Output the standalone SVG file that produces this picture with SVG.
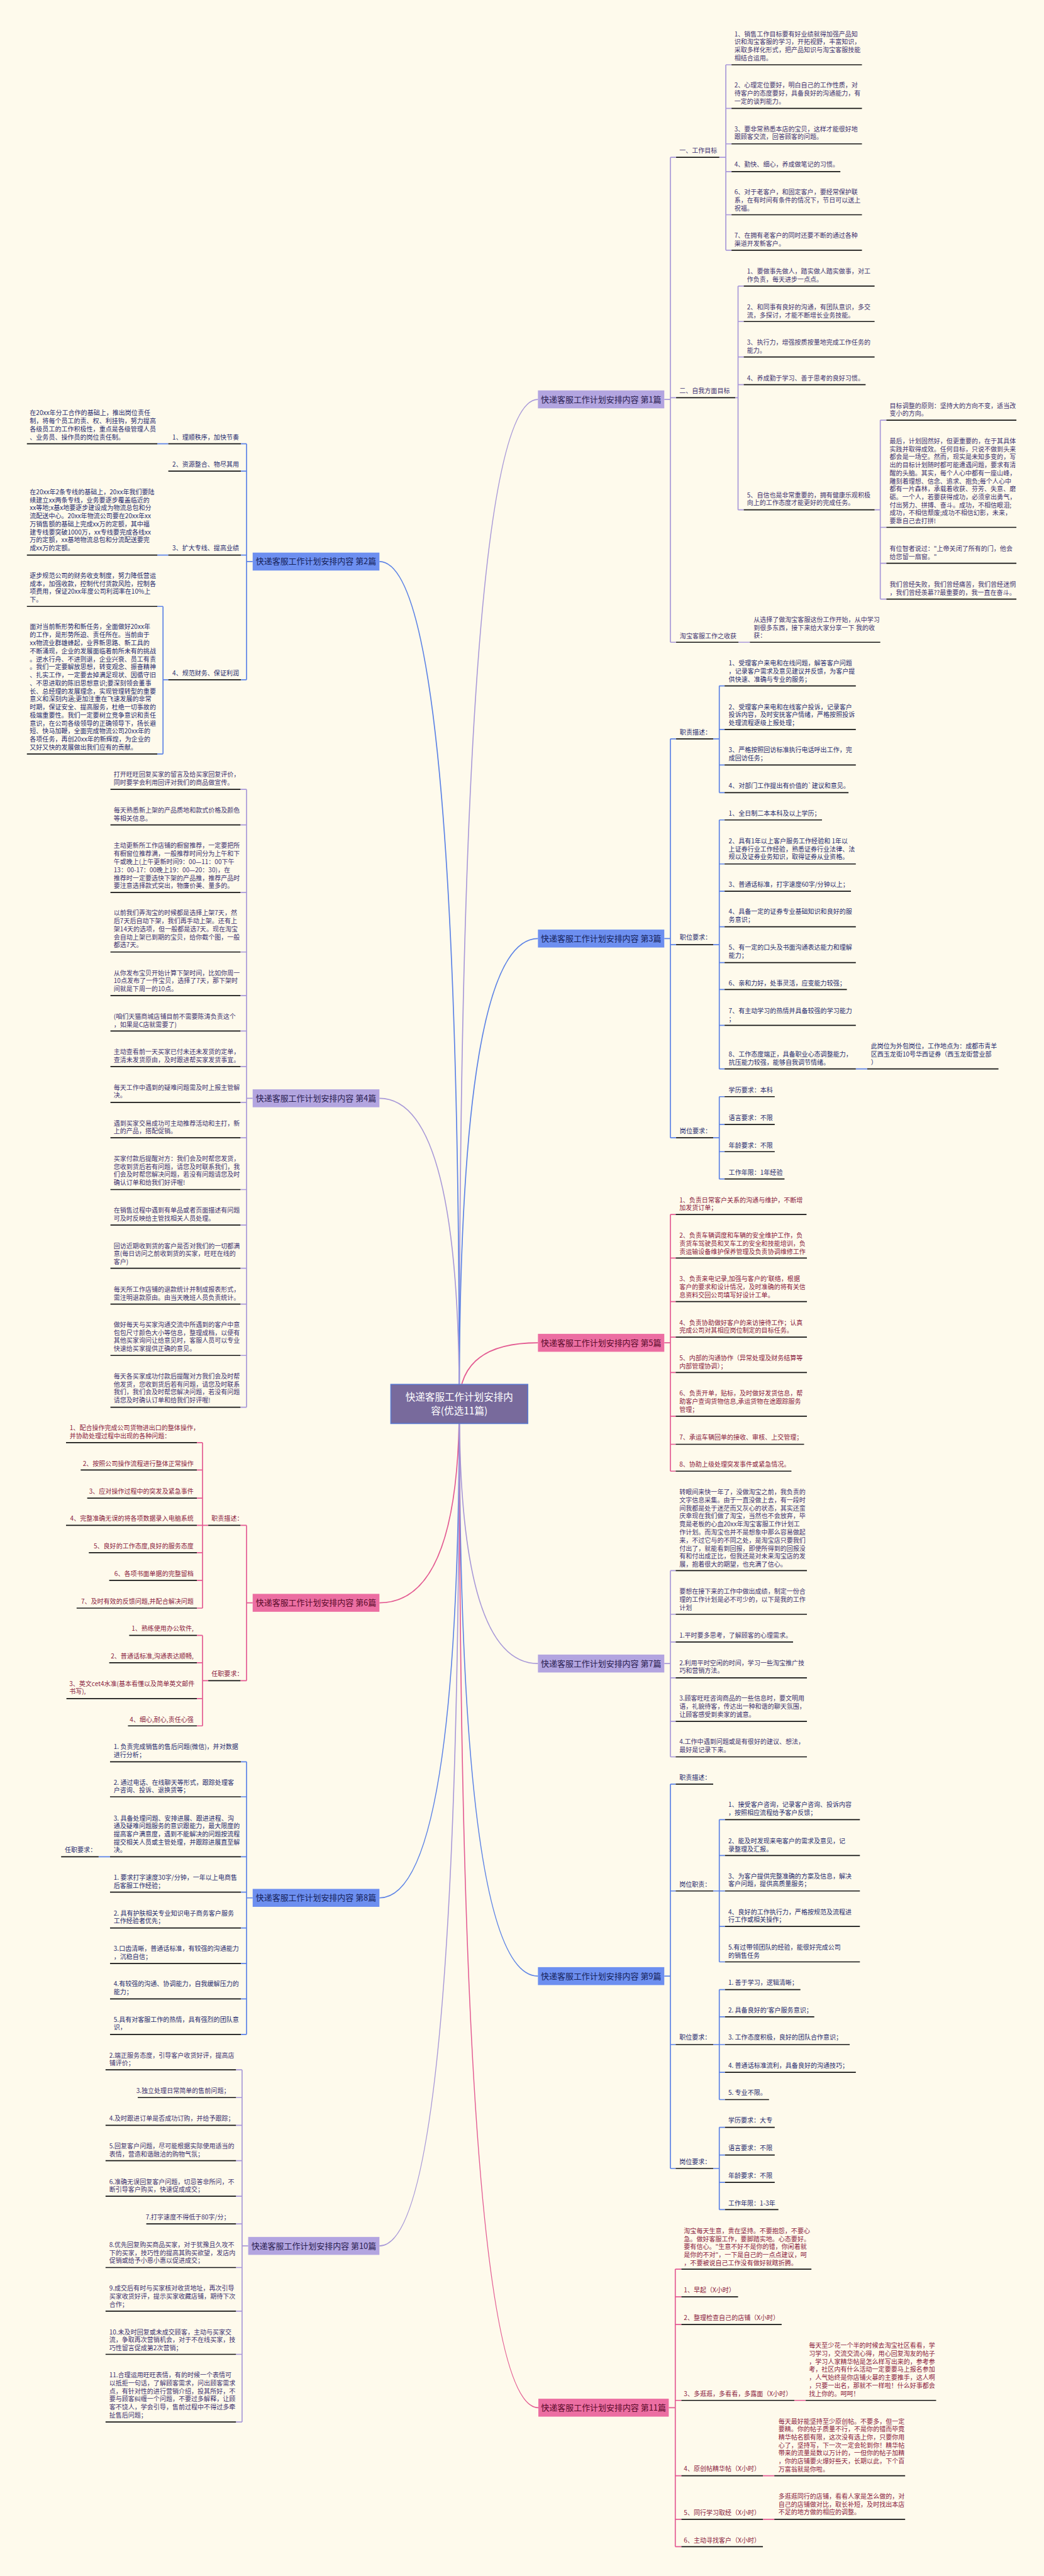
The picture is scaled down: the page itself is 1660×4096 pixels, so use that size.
<svg xmlns="http://www.w3.org/2000/svg" width="1660" height="4096" viewBox="0 0 1660 4096">
<style>
text{font-family:"Noto Sans CJK SC","Noto Sans",sans-serif;font-size:15.5px}
.p{fill:#3d3270}.b{fill:#1f2b6e}.r{fill:#8b1a40}
.u{stroke:#141414;stroke-width:2.6;fill:none}
.cp{stroke:#a898d8;stroke-width:2.6;fill:none}.cb{stroke:#5c82e6;stroke-width:2.6;fill:none}.cr{stroke:#e35a92;stroke-width:2.6;fill:none}
.np{fill:#b3a5e0}.nb{fill:#6d8ff0}.nr{fill:#ec6ea2}
.nt{font-size:20px;text-anchor:middle}
.tp{fill:#2a2050}.tb{fill:#15225a}.tr{fill:#5a0a2a}
.e{text-anchor:end}
</style>
<rect width="1660" height="4096" fill="#fefaec"/>
<g transform="scale(0.648)">
<g id="connectors">
<path class="cp" d="M1127 3445Q1127 980 1320 980M1630 980H1645M1645 386V1576M1645 386H1659M1645 976H1659M1645 1576H1659M1765 386H1781M1781 159V614M1781 159H1795M1781 266H1795M1781 353H1795M1781 421H1795M1781 527H1795M1781 614H1795M1804 976H1811M1811 702V1251M1811 702H1825M1811 789H1825M1811 876H1825M1811 944H1825M1811 1251H1825M2146 1251H2160M2160 1031V1470M2160 1031H2175M2160 1294H2175M2160 1382H2175M2160 1470H2175M1812 1576H1840"/>
<path class="cb" d="M1127 3445Q1127 2303 1320 2303M1630 2303H1645M1645 1813V2792M1645 1813H1659M1645 2318H1659M1645 2792H1659M1750 1813H1765M1765 1683V1945M1765 1683H1778M1765 1790H1778M1765 1877H1778M1765 1945H1778M1750 2318H1765M1765 2012V2623M1765 2012H1778M1765 2120H1778M1765 2187H1778M1765 2274H1778M1765 2362H1778M1765 2428H1778M1765 2516H1778M1765 2623H1778M2100 2623H2128M1750 2792H1765M1765 2691V2893M1765 2691H1778M1765 2759H1778M1765 2826H1778M1765 2893H1778"/>
<path class="cr" d="M1127 3445Q1127 3295 1320 3295M1630 3295H1645M1645 2980V3610M1645 2980H1658M1645 3087H1658M1645 3194H1658M1645 3281H1658M1645 3368H1658M1645 3475H1658M1645 3544H1658M1645 3610H1658"/>
<path class="cp" d="M1127 3445Q1127 4082 1320 4082M1630 4082H1645M1645 3854V4311M1645 3854H1658M1645 3961H1658M1645 4029H1658M1645 4117H1658M1645 4224H1658M1645 4311H1658"/>
<path class="cb" d="M1127 3445Q1127 4849 1320 4849M1630 4849H1645M1645 4378V5321M1645 4378H1658M1645 4640H1658M1645 5017H1658M1645 5321H1658M1750 4640H1765M1765 4465V4814M1765 4465H1779M1765 4553H1779M1765 4640H1779M1765 4727H1779M1765 4814H1779M1750 5017H1765M1765 4882V5152M1765 4882H1779M1765 4949H1779M1765 5017H1779M1765 5085H1779M1765 5152H1779M1750 5321H1765M1765 5220V5422M1765 5220H1779M1765 5288H1779M1765 5355H1779M1765 5422H1779"/>
<path class="cr" d="M1127 3445Q1127 5908 1321 5908M1641 5908H1657M1657 5568V6249M1657 5568H1672M1657 5636H1672M1657 5704H1672M1657 5890H1672M1657 6075H1672M1657 6182H1672M1657 6249H1672M1949 5890H1977M1872 6075H1900M1872 6182H1900"/>
<path class="cb" d="M1127 3445Q1127 1378 931 1378M620 1378H605M605 1089V1668M605 1089H591M605 1156H591M605 1362H591M605 1668H591M386 1089H413M386 1362H413M413 1668H400M400 1488V1850M400 1488H386M400 1850H386"/>
<path class="cp" d="M1127 3445Q1127 2695 931 2695M620 2695H605M605 1937V3453M605 1937H590M605 2024H590M605 2190H590M605 2336H590M605 2443H590M605 2530H590M605 2617H590M605 2705H590M605 2792H590M605 2919H590M605 3006H590M605 3112H590M605 3200H590M605 3326H590M605 3453H590"/>
<path class="cr" d="M1127 3445Q1127 3933 931 3933M620 3933H605M605 3743V4124M605 3743H590M605 4124H590M511 3743H497M497 3540V3946M497 3540H483M497 3607H483M497 3676H483M497 3743H483M497 3810H483M497 3878H483M497 3946H483M511 4124H497M497 4013V4235M497 4013H483M497 4080H483M497 4168H483M497 4235H483"/>
<path class="cb" d="M1127 3445Q1127 4657 931 4657M620 4657H605M605 4323V4992M605 4323H591M605 4409H591M605 4556H591M605 4643H591M605 4731H591M605 4818H591M605 4905H591M605 4992H591M270 4556H242"/>
<path class="cp" d="M1127 3445Q1127 5511 931 5511M609 5511H594M594 5079V5943M594 5079H579M594 5147H579M594 5215H579M594 5302H579M594 5389H579M594 5457H579M594 5564H579M594 5671H579M594 5777H579M594 5943H579"/>
</g>

<g id="center"><rect x="959" y="3397" width="336" height="96" fill="#786a9c" stroke="#5a78d0" stroke-width="2.5"/><text x="1127" y="3436" text-anchor="middle" style="font-size:24px;fill:#fff">快递客服工作计划安排内</text><text x="1127" y="3471" text-anchor="middle" style="font-size:24px;fill:#fff">容(优选11篇)</text></g>

<g id="p1"><rect class="np" x="1320" y="958" width="310" height="44"/><text class="nt tp" x="1475" y="987">快递客服工作计划安排内容 第1篇</text></g>
<g id="p1a"><text class="p" x="1667" y="375.5">一、工作目标</text><path class="u" d="M1659 386H1765"/></g>
<g id="p1a1"><text class="p" x="1802" y="89"><tspan x="1802">1、销售工作目标要有好业绩就得加强产品知</tspan><tspan x="1802" dy="19.7">识和淘宝客服的学习，开拓视野，丰富知识，</tspan><tspan x="1802" dy="19.7">采取多样化形式，把产品知识与淘宝客服技能</tspan><tspan x="1802" dy="19.7">相结合运用。</tspan></text><path class="u" d="M1795 159H2115"/></g>
<g id="p1a2"><text class="p" x="1802" y="215"><tspan x="1802">2、心理定位要好，明白自己的工作性质，对</tspan><tspan x="1802" dy="19.7">待客户的态度要好，具备良好的沟通能力，有</tspan><tspan x="1802" dy="19.7">一定的谈判能力。</tspan></text><path class="u" d="M1795 266H2115"/></g>
<g id="p1a3"><text class="p" x="1802" y="322"><tspan x="1802">3、要非常熟悉本店的宝贝，这样才能很好地</tspan><tspan x="1802" dy="19.7">跟顾客交流，回答顾客的问题。</tspan></text><path class="u" d="M1795 353H2115"/></g>
<g id="p1a4"><text class="p" x="1802" y="409">4、勤快、细心，养成做笔记的习惯。</text><path class="u" d="M1795 421H2062"/></g>
<g id="p1a6"><text class="p" x="1802" y="477"><tspan x="1802">6、对于老客户，和固定客户，要经常保护联</tspan><tspan x="1802" dy="19.7">系，在有时间有条件的情况下，节日可以送上</tspan><tspan x="1802" dy="19.7">祝福。</tspan></text><path class="u" d="M1795 527H2115"/></g>
<g id="p1a7"><text class="p" x="1802" y="584"><tspan x="1802">7、在拥有老客户的同时还要不断的通过各种</tspan><tspan x="1802" dy="19.7">渠道开发新客户。</tspan></text><path class="u" d="M1795 614H2115"/></g>
<g id="p1b"><text class="p" x="1667" y="964">二、自我方面目标</text><path class="u" d="M1659 976H1804"/></g>
<g id="p1b1"><text class="p" x="1833" y="671"><tspan x="1833">1、要做事先做人，踏实做人踏实做事，对工</tspan><tspan x="1833" dy="19.7">作负责，每天进步一点点。</tspan></text><path class="u" d="M1825 702H2146"/></g>
<g id="p1b2"><text class="p" x="1833" y="759"><tspan x="1833">2、和同事有良好的沟通，有团队意识，多交</tspan><tspan x="1833" dy="19.7">流，多探讨，才能不断增长业务技能。</tspan></text><path class="u" d="M1825 789H2146"/></g>
<g id="p1b3"><text class="p" x="1833" y="846"><tspan x="1833">3、执行力，增强按质按量地完成工作任务的</tspan><tspan x="1833" dy="19.7">能力。</tspan></text><path class="u" d="M1825 876H2146"/></g>
<g id="p1b4"><text class="p" x="1833" y="933">4、养成勤于学习、善于思考的良好习惯。</text><path class="u" d="M1825 944H2124"/></g>
<g id="p1b5"><text class="p" x="1833" y="1220"><tspan x="1833">5、自信也是非常重要的，拥有健康乐观积极</tspan><tspan x="1833" dy="19.7">向上的工作态度才能更好的完成任务。</tspan></text><path class="u" d="M1825 1251H2146"/></g>
<g id="p1b5a"><text class="p" x="2183" y="1001"><tspan x="2183">目标调整的原则：坚持大的方向不变，适当改</tspan><tspan x="2183" dy="19.7">变小的方向。</tspan></text><path class="u" d="M2175 1031H2494"/></g>
<g id="p1b5b"><text class="p" x="2183" y="1088"><tspan x="2183">最后，计划固然好，但更重要的，在于其具体</tspan><tspan x="2183" dy="19.6">实践并取得成效。任何目标，只说不做到头来</tspan><tspan x="2183" dy="19.6">都会是一场空。然而，现实是未知多变的，写</tspan><tspan x="2183" dy="19.6">出的目标计划随时都可能遭遇问题，要求有清</tspan><tspan x="2183" dy="19.6">醒的头脑。其实，每个人心中都有一座山峰，</tspan><tspan x="2183" dy="19.6">雕刻着理想、信念、追求、抱负;每个人心中</tspan><tspan x="2183" dy="19.6">都有一片森林，承载着收获、芬芳、失意、磨</tspan><tspan x="2183" dy="19.6">砺。一个人，若要获得成功，必须拿出勇气，</tspan><tspan x="2183" dy="19.6">付出努力、拼搏、奋斗。成功，不相信眼泪;</tspan><tspan x="2183" dy="19.6">成功，不相信颓废;成功不相信幻影，未来，</tspan><tspan x="2183" dy="19.6">要靠自己去打拼!</tspan></text><path class="u" d="M2175 1294H2494"/></g>
<g id="p1b5c"><text class="p" x="2183" y="1352"><tspan x="2183">有位智者说过："上帝关闭了所有的门，他会</tspan><tspan x="2183" dy="19.7">给您留一扇窗。"</tspan></text><path class="u" d="M2175 1382H2494"/></g>
<g id="p1b5d"><text class="p" x="2183" y="1440"><tspan x="2183">我们曾经失败，我们曾经痛苦，我们曾经迷惘</tspan><tspan x="2183" dy="19.7">，我们曾经羡慕??最重要的，我一直在奋斗。</tspan></text><path class="u" d="M2175 1470H2494"/></g>
<g id="p1c"><text class="p" x="1668" y="1566">淘宝客服工作之收获</text><path class="u" d="M1659 1576H1812"/></g>
<g id="p1c1"><text class="p" x="1849" y="1526"><tspan x="1849">从选择了做淘宝客服这份工作开始，从中学习</tspan><tspan x="1849" dy="19.7">到很多东西，接下来给大家分享一下 我的收</tspan><tspan x="1849" dy="19.7">获：</tspan></text><path class="u" d="M1840 1576H2160"/></g>

<g id="p3"><rect class="nb" x="1320" y="2281" width="310" height="44"/><text class="nt tb" x="1475" y="2310">快递客服工作计划安排内容 第3篇</text></g>
<g id="p3a"><text class="b" x="1668" y="1803">职责描述：</text><path class="u" d="M1659 1813H1750"/></g>
<g id="p3a1"><text class="b" x="1788" y="1633"><tspan x="1788">1、受理客户来电和在线问题，解答客户问题</tspan><tspan x="1788" dy="19.9">，记录客户需求及意见建议并反馈，为客户提</tspan><tspan x="1788" dy="19.9">供快速、准确与专业的服务；</tspan></text><path class="u" d="M1778 1683H2100"/></g>
<g id="p3a2"><text class="b" x="1788" y="1740"><tspan x="1788">2、受理客户来电和在线客户投诉，记录客户</tspan><tspan x="1788" dy="19.9">投诉内容，及时安抚客户情绪，严格按照投诉</tspan><tspan x="1788" dy="19.9">处理流程逐级上报处理；</tspan></text><path class="u" d="M1778 1790H2100"/></g>
<g id="p3a3"><text class="b" x="1788" y="1846"><tspan x="1788">3、严格按照回访标准执行电话呼出工作，完</tspan><tspan x="1788" dy="19.9">成回访任务；</tspan></text><path class="u" d="M1778 1877H2100"/></g>
<g id="p3a4"><text class="b" x="1788" y="1933">4、对部门工作提出有价值的`建议和意见。</text><path class="u" d="M1778 1945H2082"/></g>
<g id="p3b"><text class="b" x="1668" y="2306">职位要求：</text><path class="u" d="M1659 2318H1750"/></g>
<g id="p3b1"><text class="b" x="1788" y="2001">1、全日制二本本科及以上学历；</text><path class="u" d="M1778 2012H2017"/></g>
<g id="p3b2"><text class="b" x="1788" y="2069"><tspan x="1788">2、具有1年以上客户服务工作经验和 1年以</tspan><tspan x="1788" dy="19.9">上证券行业工作经验，熟悉证券行业法律、法</tspan><tspan x="1788" dy="19.9">规以及证券业务知识，取得证券从业资格。</tspan></text><path class="u" d="M1778 2120H2100"/></g>
<g id="p3b3"><text class="b" x="1788" y="2176">3、普通话标准，打字速度60字/分钟以上；</text><path class="u" d="M1778 2187H2088"/></g>
<g id="p3b4"><text class="b" x="1788" y="2243"><tspan x="1788">4、具备一定的证券专业基础知识和良好的服</tspan><tspan x="1788" dy="19.9">务意识；</tspan></text><path class="u" d="M1778 2274H2100"/></g>
<g id="p3b5"><text class="b" x="1788" y="2331"><tspan x="1788">5、有一定的口头及书面沟通表达能力和理解</tspan><tspan x="1788" dy="19.9">能力；</tspan></text><path class="u" d="M1778 2362H2100"/></g>
<g id="p3b6"><text class="b" x="1788" y="2418">6、亲和力好，处事灵活，应变能力较强；</text><path class="u" d="M1778 2428H2078"/></g>
<g id="p3b7"><text class="b" x="1788" y="2486"><tspan x="1788">7、有主动学习的热情并具备较强的学习能力</tspan><tspan x="1788" dy="19.9">；</tspan></text><path class="u" d="M1778 2516H2100"/></g>
<g id="p3b8"><text class="b" x="1788" y="2593"><tspan x="1788">8、工作态度端正，具备职业心态调整能力，</tspan><tspan x="1788" dy="19.9">抗压能力较强，能够自我调节情绪。</tspan></text><path class="u" d="M1778 2623H2100"/></g>
<g id="p3b8a"><text class="b" x="2137" y="2573"><tspan x="2137">此岗位为外包岗位，工作地点为：成都市青羊</tspan><tspan x="2137" dy="19.9">区西玉龙街10号华西证券（西玉龙街营业部</tspan><tspan x="2137" dy="19.9">）</tspan></text><path class="u" d="M2128 2623H2450"/></g>
<g id="p3c"><text class="b" x="1668" y="2781">岗位要求：</text><path class="u" d="M1659 2792H1750"/></g>
<g id="p3c1"><text class="b" x="1788" y="2680">学历要求：本科</text><path class="u" d="M1778 2691H1901"/></g>
<g id="p3c2"><text class="b" x="1788" y="2748">语言要求：不限</text><path class="u" d="M1778 2759H1901"/></g>
<g id="p3c3"><text class="b" x="1788" y="2816">年龄要求：不限</text><path class="u" d="M1778 2826H1901"/></g>
<g id="p3c4"><text class="b" x="1788" y="2882">工作年限：1年经验</text><path class="u" d="M1778 2893H1925"/></g>

<g id="p5"><rect class="nr" x="1320" y="3273" width="310" height="44"/><text class="nt tr" x="1475" y="3302">快递客服工作计划安排内容 第5篇</text></g>
<g id="p5a"><text class="r" x="1667" y="2950"><tspan x="1667">1、负责日常客户关系的沟通与维护，不断增</tspan><tspan x="1667" dy="19.8">加发货订单；</tspan></text><path class="u" d="M1658 2980H1979"/></g>
<g id="p5b"><text class="r" x="1667" y="3037"><tspan x="1667">2、负责车辆调度和车辆的安全维护工作，负</tspan><tspan x="1667" dy="19.8">责货车驾驶员和叉车工的安全和技能培训，负</tspan><tspan x="1667" dy="19.8">责运输设备维护保养管理及负责协调维修工作</tspan></text><path class="u" d="M1658 3087H1980"/></g>
<g id="p5c"><text class="r" x="1667" y="3144"><tspan x="1667">3、负责来电记录,加强与客户的'联络，根据</tspan><tspan x="1667" dy="19.8">客户的要求和设计情况，及时准确的将有关信</tspan><tspan x="1667" dy="19.8">息资料交回公司填写好设计工单。</tspan></text><path class="u" d="M1658 3194H1980"/></g>
<g id="p5d"><text class="r" x="1667" y="3251"><tspan x="1667">4、负责协助做好客户的来访接待工作；认真</tspan><tspan x="1667" dy="19.8">完成公司对其相应岗位制定的目标任务。</tspan></text><path class="u" d="M1658 3281H1980"/></g>
<g id="p5e"><text class="r" x="1667" y="3338"><tspan x="1667">5、内部的沟通协作（异常处理及财务结算等</tspan><tspan x="1667" dy="19.8">内部管理协调）；</tspan></text><path class="u" d="M1658 3368H1980"/></g>
<g id="p5f"><text class="r" x="1667" y="3425"><tspan x="1667">6、负责开单，贴标，及时做好发货信息，帮</tspan><tspan x="1667" dy="19.8">助客户查询货物信息,承运货物在途跟踪服务</tspan><tspan x="1667" dy="19.8">管理；</tspan></text><path class="u" d="M1658 3475H1980"/></g>
<g id="p5g"><text class="r" x="1667" y="3532">7、承运车辆回单的接收、审核、上交管理；</text><path class="u" d="M1658 3544H1973"/></g>
<g id="p5h"><text class="r" x="1667" y="3599">8、协助上级处理突发事件或紧急情况。</text><path class="u" d="M1658 3610H1942"/></g>

<g id="p7"><rect class="np" x="1320" y="4060" width="310" height="44"/><text class="nt tp" x="1475" y="4089">快递客服工作计划安排内容 第7篇</text></g>
<g id="p7a"><text class="p" x="1667" y="3667"><tspan x="1667">转眼间来快一年了，没做淘宝之前，我负责的</tspan><tspan x="1667" dy="19.7">文字信息采集。由于一直没做上去，有一段时</tspan><tspan x="1667" dy="19.7">间我都是处于迷茫而又灰心的状态，其实还蛮</tspan><tspan x="1667" dy="19.7">庆幸现在我们做了淘宝，当然也不会放弃，毕</tspan><tspan x="1667" dy="19.7">竟是老板的心血20xx年淘宝客服工作计划工</tspan><tspan x="1667" dy="19.7">作计划。而淘宝也并不是想象中那么容易做起</tspan><tspan x="1667" dy="19.7">来，不过它与的不同之处，是淘宝店只要我们</tspan><tspan x="1667" dy="19.7">付出了，就能看到回报，即使所得到的回报没</tspan><tspan x="1667" dy="19.7">有和付出成正比，但我还是对未来淘宝店的发</tspan><tspan x="1667" dy="19.7">展，抱着很大的期望，也充满了信心。</tspan></text><path class="u" d="M1658 3854H1980"/></g>
<g id="p7b"><text class="p" x="1667" y="3911"><tspan x="1667">要想在接下来的工作中做出成绩，制定一份合</tspan><tspan x="1667" dy="19.7">理的工作计划是必不可少的，以下是我的工作</tspan><tspan x="1667" dy="19.7">计划</tspan></text><path class="u" d="M1658 3961H1980"/></g>
<g id="p7c"><text class="p" x="1667" y="4018">1.平时要多思考，了解顾客的心理需求。</text><path class="u" d="M1658 4029H1946"/></g>
<g id="p7d"><text class="p" x="1667" y="4086"><tspan x="1667">2.利用平时空闲的时间，学习一些淘宝推广技</tspan><tspan x="1667" dy="19.7">巧和营销方法。</tspan></text><path class="u" d="M1658 4117H1980"/></g>
<g id="p7e"><text class="p" x="1667" y="4173"><tspan x="1667">3.顾客旺旺咨询商品的一些信息时，要文明用</tspan><tspan x="1667" dy="19.7">语，礼貌待客，传达出一种和谐的聊天氛围，</tspan><tspan x="1667" dy="19.7">让顾客感受到卖家的诚意。</tspan></text><path class="u" d="M1658 4224H1980"/></g>
<g id="p7f"><text class="p" x="1667" y="4280"><tspan x="1667">4.工作中遇到问题或是有很好的建议、想法，</tspan><tspan x="1667" dy="19.7">最好是记录下来。</tspan></text><path class="u" d="M1658 4311H1980"/></g>

<g id="p9"><rect class="nb" x="1320" y="4827" width="310" height="44"/><text class="nt tb" x="1475" y="4856">快递客服工作计划安排内容 第9篇</text></g>
<g id="p9a"><text class="b" x="1667" y="4367">职责描述：</text><path class="u" d="M1658 4378H1750"/></g>
<g id="p9b"><text class="b" x="1667" y="4629">岗位职责：</text><path class="u" d="M1658 4640H1750"/></g>
<g id="p9b1"><text class="b" x="1787" y="4434"><tspan x="1787">1、接受客户咨询，记录客户咨询、投诉内容</tspan><tspan x="1787" dy="19.7">，按照相应流程给予客户反馈；</tspan></text><path class="u" d="M1779 4465H2110"/></g>
<g id="p9b2"><text class="b" x="1787" y="4523"><tspan x="1787">2、能及时发现来电客户的需求及意见，记</tspan><tspan x="1787" dy="19.7">录整理及汇报。</tspan></text><path class="u" d="M1779 4553H2110"/></g>
<g id="p9b3"><text class="b" x="1787" y="4609"><tspan x="1787">3、为客户提供完整准确的方案及信息，解决</tspan><tspan x="1787" dy="19.7">客户问题，提供高质量服务；</tspan></text><path class="u" d="M1779 4640H2110"/></g>
<g id="p9b4"><text class="b" x="1787" y="4697"><tspan x="1787">4、良好的工作执行力，严格按规范及流程进</tspan><tspan x="1787" dy="19.7">行工作或相关操作；</tspan></text><path class="u" d="M1779 4727H2110"/></g>
<g id="p9b5"><text class="b" x="1787" y="4784"><tspan x="1787">5.有过带领团队的经验，能很好完成公司</tspan><tspan x="1787" dy="19.7">的销售任务</tspan></text><path class="u" d="M1779 4814H2110"/></g>
<g id="p9c"><text class="b" x="1667" y="5005">职位要求：</text><path class="u" d="M1658 5017H1750"/></g>
<g id="p9c1"><text class="b" x="1787" y="4871">1. 善于学习，逻辑清晰；</text><path class="u" d="M1779 4882H1964"/></g>
<g id="p9c2"><text class="b" x="1787" y="4938">2. 具备良好的'客户服务意识；</text><path class="u" d="M1779 4949H1998"/></g>
<g id="p9c3"><text class="b" x="1787" y="5005">3. 工作态度积极，良好的团队合作意识；</text><path class="u" d="M1779 5017H2085"/></g>
<g id="p9c4"><text class="b" x="1787" y="5074">4. 普通话标准流利，具备良好的沟通技巧；</text><path class="u" d="M1779 5085H2100"/></g>
<g id="p9c5"><text class="b" x="1787" y="5141">5. 专业不限。</text><path class="u" d="M1779 5152H1887"/></g>
<g id="p9d"><text class="b" x="1667" y="5310">岗位要求：</text><path class="u" d="M1658 5321H1750"/></g>
<g id="p9d1"><text class="b" x="1787" y="5209">学历要求：大专</text><path class="u" d="M1779 5220H1901"/></g>
<g id="p9d2"><text class="b" x="1787" y="5277">语言要求：不限</text><path class="u" d="M1779 5288H1901"/></g>
<g id="p9d3"><text class="b" x="1787" y="5344">年龄要求：不限</text><path class="u" d="M1779 5355H1901"/></g>
<g id="p9d4"><text class="b" x="1787" y="5412">工作年限：1-3年</text><path class="u" d="M1779 5422H1910"/></g>

<g id="p11"><rect class="nr" x="1321" y="5886" width="320" height="44"/><text class="nt tr" x="1481" y="5915">快递客服工作计划安排内容 第11篇</text></g>
<g id="p11a"><text class="r" x="1678" y="5480"><tspan x="1678">淘宝每天生意，贵在坚持。不要抱怨，不要心</tspan><tspan x="1678" dy="19.6">急。做好客服工作，要脚踏实地。心态要好。</tspan><tspan x="1678" dy="19.6">要有信心。"生意不好不是你的错，你闲着就</tspan><tspan x="1678" dy="19.6">是你的不对"，一下是自己的一点点建议，呵</tspan><tspan x="1678" dy="19.6">，不要被说自己工作没有做好就瞎折腾。</tspan></text><path class="u" d="M1672 5568H1991"/></g>
<g id="p11b"><text class="r" x="1678" y="5625">1、早起（X小时）</text><path class="u" d="M1672 5636H1811"/></g>
<g id="p11c"><text class="r" x="1678" y="5693">2、整理检查自己的店铺（X小时）</text><path class="u" d="M1672 5704H1918"/></g>
<g id="p11d"><text class="r" x="1678" y="5879">3、多逛逛，多看看，多露面（X小时）</text><path class="u" d="M1672 5890H1949"/></g>
<g id="p11d1"><text class="r" x="1985" y="5761"><tspan x="1985">每天至少花一个半的时候去淘宝社区看看，学</tspan><tspan x="1985" dy="19.7">习学习，交流交流心得，用心回复淘友的帖子</tspan><tspan x="1985" dy="19.7">，学习人家精华帖是怎么样写出来的，参考参</tspan><tspan x="1985" dy="19.7">考，社区内有什么活动一定要要马上报名参加</tspan><tspan x="1985" dy="19.7">，人气始终是你店铺火暴的主要推手，这人啊</tspan><tspan x="1985" dy="19.7">，只要一出名，那就不一样啦！什么好事都会</tspan><tspan x="1985" dy="19.7">找上你的。呵呵！</tspan></text><path class="u" d="M1977 5890H2297"/></g>
<g id="p11e"><text class="r" x="1678" y="6064">4、原创帖精华帖（X小时）</text><path class="u" d="M1672 6075H1872"/></g>
<g id="p11e1"><text class="r" x="1910" y="5947"><tspan x="1910">每天最好能坚持至少原创帖。不要多，但一定</tspan><tspan x="1910" dy="19.6">要精。你的帖子质量不行，不是你的错而毕竟</tspan><tspan x="1910" dy="19.6">精华帖名额有限，这次没有选上你，只要你用</tspan><tspan x="1910" dy="19.6">心了，坚持写，下一次一定会轮到你！精华帖</tspan><tspan x="1910" dy="19.6">带来的流量是数以万计的，一但你的帖子加精</tspan><tspan x="1910" dy="19.6">，你的店铺要火爆好些天，长期以此，下个百</tspan><tspan x="1910" dy="19.6">万富翁就是你啦。</tspan></text><path class="u" d="M1900 6075H2221"/></g>
<g id="p11f"><text class="r" x="1678" y="6171">5、同行学习取经（X小时）</text><path class="u" d="M1672 6182H1872"/></g>
<g id="p11f1"><text class="r" x="1910" y="6131"><tspan x="1910">多逛逛同行的店铺，看看人家是怎么做的，对</tspan><tspan x="1910" dy="19.7">自己的店铺做对比，取长补短，及时找出本店</tspan><tspan x="1910" dy="19.7">不足的地方做的相应的调整。</tspan></text><path class="u" d="M1900 6182H2221"/></g>
<g id="p11g"><text class="r" x="1678" y="6239">6、主动寻找客户（X小时）</text><path class="u" d="M1672 6249H1872"/></g>

<g id="p2"><rect class="nb" x="620" y="1356" width="311" height="44"/><text class="nt tb" x="775.5" y="1385">快递客服工作计划安排内容 第2篇</text></g>
<g id="p2a"><text class="b" x="423" y="1078">1、理顺秩序，加快节奏</text><path class="u" d="M413 1089H591"/></g>
<g id="p2a1"><text class="b" x="73" y="1019"><tspan x="73">在20xx年分工合作的基础上，推出岗位责任</tspan><tspan x="73" dy="19.7">制，将每个员工的责、权、利挂钩，努力提高</tspan><tspan x="73" dy="19.7">各级员工的工作积极性，重点是各级管理人员</tspan><tspan x="73" dy="19.7">、业务员、操作员的岗位责任制。</tspan></text><path class="u" d="M66 1089H386"/></g>
<g id="p2b"><text class="b" x="423" y="1145">2、资源整合、物尽其用</text><path class="u" d="M413 1156H591"/></g>
<g id="p2c"><text class="b" x="423" y="1350">3、扩大专线、提高业绩</text><path class="u" d="M413 1362H591"/></g>
<g id="p2c1"><text class="b" x="73" y="1213"><tspan x="73">在20xx年2条专线的基础上，20xx年我们要陆</tspan><tspan x="73" dy="19.6">续建立xx两条专线，业务要逐步覆盖临近的</tspan><tspan x="73" dy="19.6">xx等地;x基x地要逐步建设成为物流总包和分</tspan><tspan x="73" dy="19.6">流配送中心。20xx年物流公司要在20xx年xx</tspan><tspan x="73" dy="19.6">万销售额的基础上完成xx万的定额，其中福</tspan><tspan x="73" dy="19.6">建专线要突破1000万，xx专线要完成各线xx</tspan><tspan x="73" dy="19.6">万的定额，xx基地物流总包和分流配送要完</tspan><tspan x="73" dy="19.6">成xx万的定额。</tspan></text><path class="u" d="M66 1362H386"/></g>
<g id="p2d"><text class="b" x="423" y="1658">4、规范财务、保证利润</text><path class="u" d="M413 1668H591"/></g>
<g id="p2d1"><text class="b" x="73" y="1418"><tspan x="73">逐步规范公司的财务收支制度，努力降低营运</tspan><tspan x="73" dy="19.7">成本，加强收款，控制代付货款风险，控制各</tspan><tspan x="73" dy="19.7">项费用，保证20xx年度公司利润率在10%上</tspan><tspan x="73" dy="19.7">下。</tspan></text><path class="u" d="M66 1488H386"/></g>
<g id="p2d2"><text class="b" x="73" y="1544"><tspan x="73">面对当前新形势和新任务，全面做好20xx年</tspan><tspan x="73" dy="19.7">的工作，是形势所迫、责任所在。当前由于</tspan><tspan x="73" dy="19.7">xx物流业群雄蜂起，业界新思路、新工具的</tspan><tspan x="73" dy="19.7">不断涌现，企业的发展面临着前所未有的挑战</tspan><tspan x="73" dy="19.7">。逆水行舟、不进则退，企业兴衰、员工有责</tspan><tspan x="73" dy="19.7">。我们一定要解放思想，转变观念、振奋精神</tspan><tspan x="73" dy="19.7">、扎实工作，一定要去掉满足现状、因循守旧</tspan><tspan x="73" dy="19.7">、不思进取的陈旧思想意识;要深刻领会董事</tspan><tspan x="73" dy="19.7">长、总经理的发展理念，实现管理转型的重要</tspan><tspan x="73" dy="19.7">意义和深刻内涵;更加注重在飞速发展的非常</tspan><tspan x="73" dy="19.7">时期，保证安全、提高服务，杜绝一切事故的</tspan><tspan x="73" dy="19.7">极端重要性。我们一定要树立竞争意识和责任</tspan><tspan x="73" dy="19.7">意识，在公司各级领导的正确领导下，扬长避</tspan><tspan x="73" dy="19.7">短、快马加鞭，全面完成物流公司20xx年的</tspan><tspan x="73" dy="19.7">各项任务，再创20xx年的新辉煌，为企业的</tspan><tspan x="73" dy="19.7">又好又快的发展做出我们应有的贡献。</tspan></text><path class="u" d="M66 1850H386"/></g>

<g id="p4"><rect class="np" x="620" y="2673" width="311" height="44"/><text class="nt tp" x="775.5" y="2702">快递客服工作计划安排内容 第4篇</text></g>
<g id="p4a"><text class="p" x="279" y="1906"><tspan x="279">打开旺旺回复买家的留言及给买家回复评价，</tspan><tspan x="279" dy="19.6">同时要学会利用回评对我们的商品做宣传。</tspan></text><path class="u" d="M271 1937H590"/></g>
<g id="p4b"><text class="p" x="279" y="1994"><tspan x="279">每天熟悉新上架的产品质地和款式价格及颜色</tspan><tspan x="279" dy="19.6">等相关信息。</tspan></text><path class="u" d="M271 2024H590"/></g>
<g id="p4c"><text class="p" x="279" y="2081"><tspan x="279">主动更新所工作店铺的橱窗推荐，一定要把所</tspan><tspan x="279" dy="19.7">有橱窗位推荐满，一般推荐时间分为上午和下</tspan><tspan x="279" dy="19.7">午或晚上(上午更新时间9：00—11：00下午</tspan><tspan x="279" dy="19.7">13：00-17：00晚上19：00—20：30)，在</tspan><tspan x="279" dy="19.7">推荐时一定要选快下架的产品推，推荐产品时</tspan><tspan x="279" dy="19.7">要注意选择款式突出，物廉价美、量多的。</tspan></text><path class="u" d="M271 2190H590"/></g>
<g id="p4d"><text class="p" x="279" y="2246"><tspan x="279">以前我们弄淘宝的时候都是选择上架7天，然</tspan><tspan x="279" dy="19.7">后7天后自动下架，我们再手动上架。还有上</tspan><tspan x="279" dy="19.7">架14天的选项，但一般都是选7天。现在淘宝</tspan><tspan x="279" dy="19.7">会自动上架已到期的宝贝，给你截个图，一般</tspan><tspan x="279" dy="19.7">都选7天。</tspan></text><path class="u" d="M271 2336H590"/></g>
<g id="p4e"><text class="p" x="279" y="2393"><tspan x="279">从你发布宝贝开始计算下架时间，比如你周一</tspan><tspan x="279" dy="19.6">10点发布了一件宝贝，选择了7天，那下架时</tspan><tspan x="279" dy="19.6">间就是下周一的10点。</tspan></text><path class="u" d="M271 2443H590"/></g>
<g id="p4f"><text class="p" x="279" y="2500"><tspan x="279">(咱们天猫商城店铺目前不需要陈涛负责这个</tspan><tspan x="279" dy="19.6">，如果是C店就需要了)</tspan></text><path class="u" d="M271 2530H590"/></g>
<g id="p4g"><text class="p" x="279" y="2587"><tspan x="279">主动查看前一天买家已付未还未发货的定单，</tspan><tspan x="279" dy="19.6">查清未发货原由，及时跟进帮买家发货事宜。</tspan></text><path class="u" d="M271 2617H590"/></g>
<g id="p4h"><text class="p" x="279" y="2674"><tspan x="279">每天工作中遇到的疑难问题需及时上报主管解</tspan><tspan x="279" dy="19.6">决。</tspan></text><path class="u" d="M271 2705H590"/></g>
<g id="p4i"><text class="p" x="279" y="2762"><tspan x="279">遇到买家交易成功可主动推荐活动和主打，新</tspan><tspan x="279" dy="19.6">上的产品，搭配促销。</tspan></text><path class="u" d="M271 2792H590"/></g>
<g id="p4j"><text class="p" x="279" y="2849"><tspan x="279">买家付款后提醒对方：我们会及时帮您发货，</tspan><tspan x="279" dy="19.5">您收到货后若有问题，请您及时联系我们，我</tspan><tspan x="279" dy="19.5">们会及时帮您解决问题，若没有问题请您及时</tspan><tspan x="279" dy="19.5">确认订单和给我们好评喔!</tspan></text><path class="u" d="M271 2919H590"/></g>
<g id="p4k"><text class="p" x="279" y="2976"><tspan x="279">在销售过程中遇到有单品或者页面描述有问题</tspan><tspan x="279" dy="19.5">可及时反映给主管找相关人员处理。</tspan></text><path class="u" d="M271 3006H590"/></g>
<g id="p4l"><text class="p" x="279" y="3063"><tspan x="279">回访近期收到货的客户是否对我们的一切都满</tspan><tspan x="279" dy="19.5">意(每日访问之前收到货的买家，旺旺在线的</tspan><tspan x="279" dy="19.5">客户)</tspan></text><path class="u" d="M271 3112H590"/></g>
<g id="p4m"><text class="p" x="279" y="3170"><tspan x="279">每天所工作店铺的退款统计并制成报表形式，</tspan><tspan x="279" dy="19.5">需注明退款原由。由当天晚班人员负责统计。</tspan></text><path class="u" d="M271 3200H590"/></g>
<g id="p4n"><text class="p" x="279" y="3256"><tspan x="279">做好每天与买家沟通交流中所遇到的客户中意</tspan><tspan x="279" dy="19.5">包包尺寸颜色大小等信息，整理成档，以便有</tspan><tspan x="279" dy="19.5">其他买家询问让给意见时，客服人员可以专业</tspan><tspan x="279" dy="19.5">快速给买家提供正确的意见。</tspan></text><path class="u" d="M271 3326H590"/></g>
<g id="p4o"><text class="p" x="279" y="3383"><tspan x="279">每天各买家成功付款后提醒对方我们会及时帮</tspan><tspan x="279" dy="19.5">他发货，您收到货后若有问题，请您及时联系</tspan><tspan x="279" dy="19.5">我们，我们会及时帮您解决问题，若没有问题</tspan><tspan x="279" dy="19.5">请您及时确认订单和给我们好评喔!</tspan></text><path class="u" d="M271 3453H590"/></g>

<g id="p6"><rect class="nr" x="620" y="3911" width="311" height="44"/><text class="nt tr" x="775.5" y="3940">快递客服工作计划安排内容 第6篇</text></g>
<g id="p6a"><text class="r" x="519" y="3732">职责描述：</text><path class="u" d="M511 3743H590"/></g>
<g id="p6a1"><text class="r" x="171" y="3509"><tspan x="171">1、配合操作完成公司货物进出口的整体操作，</tspan><tspan x="171" dy="19.6">并协助处理过程中出现的各种问题：</tspan></text><path class="u" d="M162 3540H483"/></g>
<g id="p6a2"><text class="r e" x="475" y="3597">2、按照公司操作流程进行整体正常操作</text><path class="u" d="M198 3607H483"/></g>
<g id="p6a3"><text class="r e" x="475" y="3665">3、应对操作过程中的突发及紧急事件</text><path class="u" d="M214 3676H483"/></g>
<g id="p6a4"><text class="r e" x="475" y="3732">4、完整准确无误的将各项数据录入电脑系统</text><path class="u" d="M162 3743H483"/></g>
<g id="p6a5"><text class="r e" x="475" y="3800">5、良好的工作态度,良好的服务态度</text><path class="u" d="M218 3810H483"/></g>
<g id="p6a6"><text class="r e" x="475" y="3867">6、各项书面单据的完整留档</text><path class="u" d="M268 3878H483"/></g>
<g id="p6a7"><text class="r e" x="475" y="3935">7、及时有效的反馈问题,并配合解决问题</text><path class="u" d="M188 3946H483"/></g>
<g id="p6b"><text class="r" x="519" y="4113">任职要求：</text><path class="u" d="M511 4124H590"/></g>
<g id="p6b1"><text class="r e" x="475" y="4002">1、熟练使用办公软件,</text><path class="u" d="M317 4013H483"/></g>
<g id="p6b2"><text class="r e" x="475" y="4069">2、普通话标准,沟通表达顺畅,</text><path class="u" d="M268 4080H483"/></g>
<g id="p6b3"><text class="r" x="170" y="4137"><tspan x="170">3、英文cet4水准(基本看懂以及简单英文邮件</tspan><tspan x="170" dy="19.6">书写),</tspan></text><path class="u" d="M163 4168H483"/></g>
<g id="p6b4"><text class="r e" x="475" y="4225">4、细心,耐心,责任心强</text><path class="u" d="M314 4235H483"/></g>

<g id="p8"><rect class="nb" x="620" y="4635" width="311" height="44"/><text class="nt tb" x="775.5" y="4664">快递客服工作计划安排内容 第8篇</text></g>
<g id="p8a"><text class="b" x="279" y="4292"><tspan x="279">1. 负责完成销售的售后问题(微信)，并对数据</tspan><tspan x="279" dy="19.6">进行分析；</tspan></text><path class="u" d="M270 4323H591"/></g>
<g id="p8b"><text class="b" x="279" y="4379"><tspan x="279">2. 通过电话、在线聊天等形式，跟踪处理客</tspan><tspan x="279" dy="19.6">户咨询、投诉、退换货等；</tspan></text><path class="u" d="M270 4409H591"/></g>
<g id="p8c"><text class="b" x="279" y="4467"><tspan x="279">3. 具备处理问题、安排进展、跟进进程、沟</tspan><tspan x="279" dy="19.5">通及疑难问题服务的意识跟能力，最大限度的</tspan><tspan x="279" dy="19.5">提高客户满意度，遇到不能解决的问题按流程</tspan><tspan x="279" dy="19.5">提交相关人员或主管处理，并跟踪进展直至解</tspan><tspan x="279" dy="19.5">决。</tspan></text><path class="u" d="M270 4556H591"/></g>
<g id="p8c1"><text class="b" x="159" y="4545">任职要求：</text><path class="u" d="M150 4556H242"/></g>
<g id="p8d"><text class="b" x="279" y="4613"><tspan x="279">1. 要求打字速度30字/分钟，一年以上电商售</tspan><tspan x="279" dy="19.5">后客服工作经验；</tspan></text><path class="u" d="M270 4643H591"/></g>
<g id="p8e"><text class="b" x="279" y="4700"><tspan x="279">2. 具有护肤相关专业知识电子商务客户服务</tspan><tspan x="279" dy="19.5">工作经验者优先；</tspan></text><path class="u" d="M270 4731H591"/></g>
<g id="p8f"><text class="b" x="279" y="4787"><tspan x="279">3.口齿清晰，普通话标准，有较强的沟通能力</tspan><tspan x="279" dy="19.5">，沉稳自信；</tspan></text><path class="u" d="M270 4818H591"/></g>
<g id="p8g"><text class="b" x="279" y="4874"><tspan x="279">4.有较强的沟通、协调能力，自我缓解压力的</tspan><tspan x="279" dy="19.5">能力；</tspan></text><path class="u" d="M270 4905H591"/></g>
<g id="p8h"><text class="b" x="279" y="4961"><tspan x="279">5.具有对客服工作的热情，具有强烈的团队意</tspan><tspan x="279" dy="19.5">识，</tspan></text><path class="u" d="M270 4992H591"/></g>

<g id="p10"><rect class="np" x="609" y="5489" width="322" height="44"/><text class="nt tp" x="770" y="5518">快递客服工作计划安排内容 第10篇</text></g>
<g id="p10a"><text class="p" x="268" y="5049"><tspan x="268">2.端正服务态度，引导客户收货好评，提高店</tspan><tspan x="268" dy="19.6">铺评价；</tspan></text><path class="u" d="M259 5079H579"/></g>
<g id="p10b"><text class="p e" x="564" y="5136">3.独立处理日常简单的售前问题；</text><path class="u" d="M338 5147H579"/></g>
<g id="p10c"><text class="p" x="268" y="5204">4.及时跟进订单是否成功订购，并给予跟踪；</text><path class="u" d="M259 5215H579"/></g>
<g id="p10d"><text class="p" x="268" y="5272"><tspan x="268">5.回复客户问题，尽可能根据实际使用适当的</tspan><tspan x="268" dy="19.4">表情，营造和谐融洽的购物气氛；</tspan></text><path class="u" d="M259 5302H579"/></g>
<g id="p10e"><text class="p" x="268" y="5359"><tspan x="268">6.准确无误回复客户问题，切忌答非所问，不</tspan><tspan x="268" dy="19.4">断引导客户购买，快速促成成交；</tspan></text><path class="u" d="M259 5389H579"/></g>
<g id="p10f"><text class="p e" x="564" y="5446">7.打字速度不得低于80字/分；</text><path class="u" d="M359 5457H579"/></g>
<g id="p10g"><text class="p" x="268" y="5514"><tspan x="268">8.优先回复购买商品买家，对于犹豫且久攻不</tspan><tspan x="268" dy="19.4">下的买家，技巧性的提高其购买欲望，发店内</tspan><tspan x="268" dy="19.4">促销或给予小恩小惠以促进成交；</tspan></text><path class="u" d="M259 5564H579"/></g>
<g id="p10h"><text class="p" x="268" y="5621"><tspan x="268">9.成交后有时与买家核对收货地址，再次引导</tspan><tspan x="268" dy="19.4">买家收货好评，提示买家收藏店铺，期待下次</tspan><tspan x="268" dy="19.4">合作；</tspan></text><path class="u" d="M259 5671H579"/></g>
<g id="p10i"><text class="p" x="268" y="5728"><tspan x="268">10.未及时回复或未成交顾客，主动与买家交</tspan><tspan x="268" dy="19.4">流，争取再次营销机会，对于不在线买家，技</tspan><tspan x="268" dy="19.4">巧性留言促成第2次营销；</tspan></text><path class="u" d="M259 5777H579"/></g>
<g id="p10j"><text class="p" x="268" y="5834"><tspan x="268">11.合理运用旺旺表情，有的时候一个表情可</tspan><tspan x="268" dy="19.5">以抵拒一句话，了解顾客需求，问出顾客需求</tspan><tspan x="268" dy="19.5">点，有针对性的进行营销介绍，投其所好，不</tspan><tspan x="268" dy="19.5">要与顾客纠缠一个问题，不要过多解释，让顾</tspan><tspan x="268" dy="19.5">客不饶人，学会引导，售前过程中不得过多牵</tspan><tspan x="268" dy="19.5">扯售后问题；</tspan></text><path class="u" d="M259 5943H579"/></g>
</g>
</svg>
